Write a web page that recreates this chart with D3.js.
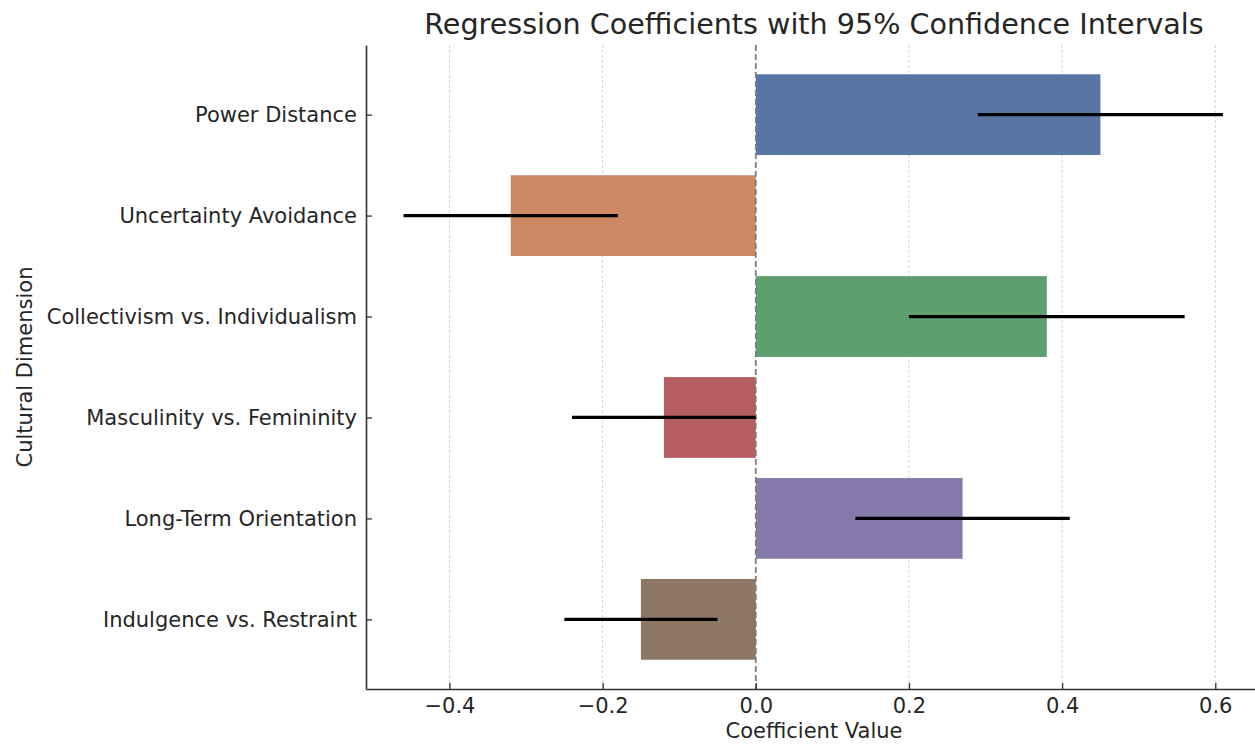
<!DOCTYPE html>
<html>
<head>
<meta charset="utf-8">
<script src="https://cdnjs.cloudflare.com/ajax/libs/d3/7.8.5/d3.min.js"></script>
<style>
  body { margin: 0; background: #fff; }
  text { font-family: "DejaVu Sans", sans-serif; fill: #262626; }
</style>
</head>
<body>
<script>
var dimensions = ["Power Distance", "Uncertainty Avoidance", "Collectivism vs. Individualism",
                  "Masculinity vs. Femininity", "Long-Term Orientation", "Indulgence vs. Restraint"];
var coefs = [0.45, -0.32, 0.38, -0.12, 0.27, -0.15];
var ciLow = [0.29, -0.46, 0.20, -0.24, 0.13, -0.25];
var ciHigh = [0.61, -0.18, 0.56, 0.00, 0.41, -0.05];
var xTicks = [-0.4, -0.2, 0.0, 0.2, 0.4, 0.6];
var colors = ["#5975a4", "#cc8963", "#5f9e6e", "#b55d60", "#857aab", "#8d7866"];

var w = 1255;
var h = 746;
var margin = {top: 45, right: -7, bottom: 57, left: 366};

var svg = d3.select("body")
  .append("svg")
  .attr("width", w)
  .attr("height", h);

var x = d3.scaleLinear()
  .domain([-0.509, 0.661])
  .range([margin.left, w - margin.right]);

// bar centres sit on 0..5, matplotlib style padding
var y = d3.scaleLinear()
  .domain([-0.69, 5.69])
  .range([margin.top, h - margin.bottom]);

var rows = dimensions.map(function(d, i){
  return {name: d, coef: coefs[i], lo: ciLow[i], hi: ciHigh[i], color: colors[i], idx: i};
});

var barH = y(0.4) - y(-0.4);

// grid
svg.append("g")
  .selectAll("line")
  .data(xTicks.filter(function(t){ return t != 0; }))
  .enter()
  .append("line")
  .attr("x1", function(d){ return x(d); })
  .attr("x2", function(d){ return x(d); })
  .attr("y1", margin.top)
  .attr("y2", h - margin.bottom)
  .attr("stroke", "#cfcfcf")
  .attr("stroke-width", 0.9)
  .attr("stroke-dasharray", "3,2");

// bars
svg.append("g")
  .selectAll("rect")
  .data(rows)
  .enter()
  .append("rect")
  .attr("x", function(d){ return x(Math.min(0, d.coef)); })
  .attr("width", function(d){ return Math.abs(x(d.coef) - x(0)); })
  .attr("y", function(d){ return y(d.idx) - barH / 2; })
  .attr("height", barH)
  .attr("fill", function(d){ return d.color; });

// zero line
svg.append("line")
  .attr("x1", x(0))
  .attr("x2", x(0))
  .attr("y1", margin.top)
  .attr("y2", h - margin.bottom)
  .attr("stroke", "#7f7f7f")
  .attr("stroke-width", 1.8)
  .attr("stroke-dasharray", "6,3");

// confidence intervals
svg.append("g")
  .selectAll("line")
  .data(rows)
  .enter()
  .append("line")
  .attr("x1", function(d){ return x(d.lo); })
  .attr("x2", function(d){ return x(d.hi); })
  .attr("y1", function(d){ return y(d.idx); })
  .attr("y2", function(d){ return y(d.idx); })
  .attr("stroke", "#000")
  .attr("stroke-width", 3.2);

// x axis
var xAxis = svg.append("g")
  .attr("transform", "translate(0," + (h - margin.bottom) + ")")
  .call(d3.axisBottom(x).tickValues(xTicks).tickSizeInner(-6).tickSizeOuter(0).tickPadding(9)
    .tickFormat(function(d){ return d3.format(".1f")(d).replace("-", "\u2212"); }));
xAxis.select(".domain").attr("stroke", "#333").attr("stroke-width", 1.6);
xAxis.selectAll(".tick line").attr("stroke", "#333").attr("stroke-width", 1.3);
xAxis.selectAll("text").style("font-size", "21px").attr("fill", "#262626");

// y axis
var yAxis = svg.append("g")
  .attr("transform", "translate(" + margin.left + ",0)")
  .call(d3.axisLeft(y).tickValues(d3.range(dimensions.length)).tickSizeInner(-6).tickSizeOuter(0).tickPadding(9)
    .tickFormat(function(d){ return dimensions[d]; }));
yAxis.select(".domain").attr("stroke", "#333").attr("stroke-width", 1.6);
yAxis.selectAll(".tick line").attr("stroke", "#333").attr("stroke-width", 1.3);
yAxis.selectAll("text").style("font-size", "21px").attr("fill", "#262626");

// labels
svg.append("text")
  .attr("x", (margin.left + w - margin.right) / 2)
  .attr("y", 34)
  .attr("text-anchor", "middle")
  .style("font-size", "28.6px")
  .attr("fill", "#333")
  .text("Regression Coefficients with 95% Confidence Intervals");

svg.append("text")
  .attr("x", (margin.left + w - margin.right) / 2)
  .attr("y", 738)
  .attr("text-anchor", "middle")
  .style("font-size", "21px")
  .text("Coefficient Value");

svg.append("text")
  .attr("transform", "translate(32," + ((margin.top + h - margin.bottom) / 2) + ") rotate(-90)")
  .attr("text-anchor", "middle")
  .style("font-size", "21px")
  .text("Cultural Dimension");
</script>
</body>
</html>
